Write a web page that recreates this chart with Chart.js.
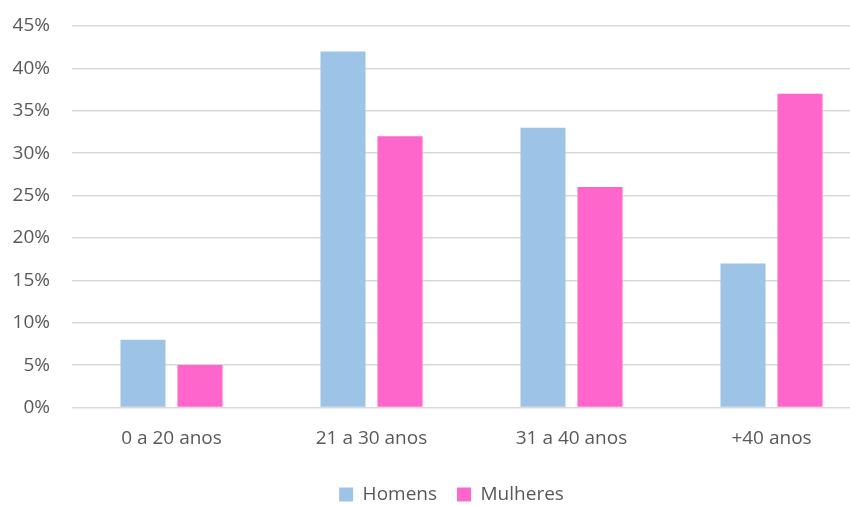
<!DOCTYPE html>
<html>
<head>
<meta charset="utf-8">
<script src="https://cdn.jsdelivr.net/npm/chart.js@4"></script>
<style>
html, body { margin: 0; padding: 0; background: #fff; overflow: hidden; width: 850px; height: 505px; }
</style>
</head>
<body>
<canvas id="chart" width="903" height="514"></canvas>
<script>
const categories = ['0 a 20 anos', '21 a 30 anos', '31 a 40 anos', '+40 anos'];
const homens = [8, 42, 33, 17];
const mulheres = [5, 32, 26, 37];
const yMax = 45;
const yStep = 5;

const textColor = '#595959';
const font = { family: "'Open Sans', sans-serif", size: 19 };

const ctx = document.getElementById('chart').getContext('2d');
new Chart(ctx, {
    type: 'bar',
    data: {
        labels: categories,
        datasets: [
            { label: 'Homens', data: homens, backgroundColor: '#9DC3E6', categoryPercentage: 0.57, barPercentage: 0.79 },
            { label: 'Mulheres', data: mulheres, backgroundColor: '#FF66CC', categoryPercentage: 0.57, barPercentage: 0.79 }
        ]
    },
    options: {
        responsive: false,
        animation: false,
        layout: { padding: { top: 26, left: 0, right: 0, bottom: 0 } },
        plugins: {
            tooltip: { enabled: false },
            legend: {
                position: 'bottom',
                labels: { color: textColor, font, boxWidth: 14, boxHeight: 14, padding: 20 }
            }
        },
        scales: {
            x: {
                grid: { display: false, drawTicks: false },
                border: { display: false },
                ticks: { color: textColor, font, padding: 20 },
                afterFit: s => { s.height = 57.5; }
            },
            y: {
                min: 0,
                max: yMax,
                grid: { color: '#d9d9d9', lineWidth: 1.5, drawTicks: false },
                border: { display: false },
                ticks: { stepSize: yStep, color: textColor, font, padding: 21.5, callback: v => v + '%' },
                // tick padding would otherwise push the plot down too
                afterFit: s => { s.width = 71.5; s.paddingTop = 0; }
            },
            // empty axis on the right so the legend centres like the original
            pad: {
                position: 'right',
                grid: { display: false, drawTicks: false },
                border: { display: false },
                ticks: { display: false },
                afterFit: s => { s.width = 31.5; }
            }
        }
    }
});
</script>
</body>
</html>
